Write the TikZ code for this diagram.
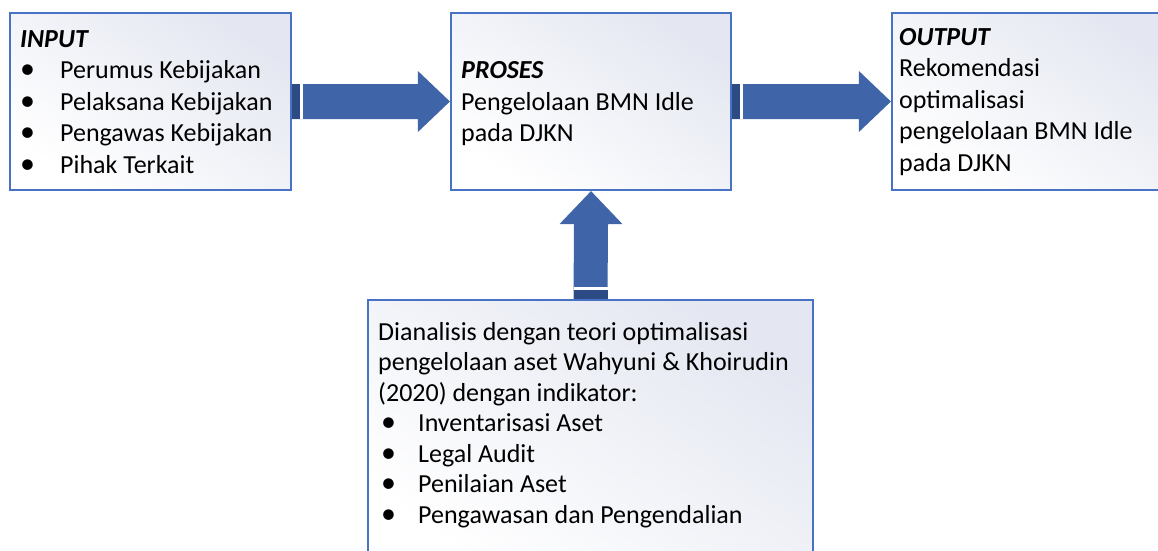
\documentclass[tikz,border=0pt]{standalone}
\usepackage{fontspec}
\setmainfont{Carlito}
\usetikzlibrary{calc}
\definecolor{bordc}{RGB}{72,114,196}
\definecolor{arrc}{RGB}{64,100,168}
\definecolor{arrdark}{RGB}{44,74,132}
\definecolor{shadec}{RGB}{228,231,241}
\newcommand\bulA[1]{\makebox[40pt][l]{\scalebox{1.15}{\textbullet}}#1}
\newcommand\bulB[1]{\makebox[37pt][l]{\scalebox{1.15}{\textbullet}}#1}
\begin{document}
\begin{tikzpicture}[x=1pt,y=1pt,
  box/.style={draw=bordc,line width=2.2pt,rectangle,inner sep=0pt,shading=axis,top color=shadec,bottom color=white,shading angle=-35},
  txt/.style={anchor=base west,inner sep=0pt,font=\fontsize{26}{31}\selectfont,text=black},
  arr/.style={fill=arrc},
  arrd/.style={fill=arrdark},
  gap/.style={draw=white,line width=2.5pt}]
\useasboundingbox (0,0) rectangle (1158,-550);
\clip (0,0) rectangle (1158,-550);
\fill[white] (0,0) rectangle (1158,-550);
% boxes
\node[box,minimum width=281pt,minimum height=177pt] (in) at (150.5,-101.5) {};
\node[box,minimum width=280pt,minimum height=177pt] (pro) at (591,-101.5) {};
\node[box,minimum width=283pt,minimum height=177pt] (out) at (1033.5,-101.5) {};
\node[box,minimum width=445pt,minimum height=270pt] (ana) at (590.5,-435) {};
% texts input
\node[txt] (i0) at (20,-47) {\textbf{\textit{INPUT}}};
\node[txt] (i1) at (20,-78.5) {\bulA{Perumus Kebijakan}};
\node[txt] (i2) at (20,-110) {\bulA{Pelaksana Kebijakan}};
\node[txt] (i3) at (20,-141.5) {\bulA{Pengawas Kebijakan}};
\node[txt] (i4) at (20,-173) {\bulA{Pihak Terkait}};
% proses
\node[txt] (p0) at (461,-78.5) {\textbf{\textit{PROSES}}};
\node[txt] (p1) at (461,-110) {Pengelolaan BMN Idle};
\node[txt] (p2) at (461,-141.5) {pada DJKN};
% output
\node[txt] (o0) at (899,-45) {\textbf{\textit{OUTPUT}}};
\node[txt] (o1) at (899,-76.5) {Rekomendasi};
\node[txt] (o2) at (899,-108) {optimalisasi};
\node[txt] (o3) at (899,-139.5) {pengelolaan BMN Idle};
\node[txt] (o4) at (899,-171) {pada DJKN};
% analysis
\node[txt] (a0) at (378,-340) {Dianalisis dengan teori optimalisasi};
\node[txt] (a1) at (378,-370.5) {pengelolaan aset Wahyuni \& Khoirudin};
\node[txt] (a2) at (378,-401) {(2020) dengan indikator:};
\node[txt] (a3) at (381,-431.5) {\bulB{Inventarisasi Aset}};
\node[txt] (a4) at (381,-462) {\bulB{Legal Audit}};
\node[txt] (a5) at (381,-492.5) {\bulB{Penilaian Aset}};
\node[txt] (a6) at (381,-523) {\bulB{Pengawasan dan Pengendalian}};
% arrow input -> proses
\fill[arr] ($(in.east)+(0,17.5)$) -- ($(pro.west)+(-32,17.5)$) -- ($(pro.west)+(-32,30.5)$) -- (pro.west)
  -- ($(pro.west)+(-32,-30.5)$) -- ($(pro.west)+(-32,-17.5)$) -- ($(in.east)+(0,-17.5)$) -- cycle;
\fill[arrd] ($(in.east)+(0,17.5)$) rectangle ($(in.east)+(8,-17.5)$);
\draw[gap] ($(in.east)+(9.5,17.5)$) -- ($(in.east)+(9.5,-17.5)$);
% arrow proses -> output
\fill[arr] ($(pro.east)+(0,17.5)$) -- ($(out.west)+(-32,17.5)$) -- ($(out.west)+(-32,30.5)$) -- (out.west)
  -- ($(out.west)+(-32,-30.5)$) -- ($(out.west)+(-32,-17.5)$) -- ($(pro.east)+(0,-17.5)$) -- cycle;
\fill[arrd] ($(pro.east)+(0,17.5)$) rectangle ($(pro.east)+(8,-17.5)$);
\draw[gap] ($(pro.east)+(9.5,17.5)$) -- ($(pro.east)+(9.5,-17.5)$);
% arrow analysis -> proses
\fill[arr] ($(ana.north)+(-17,0)$) -- ($(pro.south)+(-17,-33)$) -- ($(pro.south)+(-31.5,-33)$) -- (pro.south)
  -- ($(pro.south)+(31.5,-33)$) -- ($(pro.south)+(17,-33)$) -- ($(ana.north)+(17,0)$) -- cycle;
\fill[arrd] ($(ana.north)+(-17,0)$) rectangle ($(ana.north)+(17,9)$);
\draw[gap] ($(ana.north)+(-17,10.5)$) -- ($(ana.north)+(17,10.5)$);
\end{tikzpicture}
\end{document}
